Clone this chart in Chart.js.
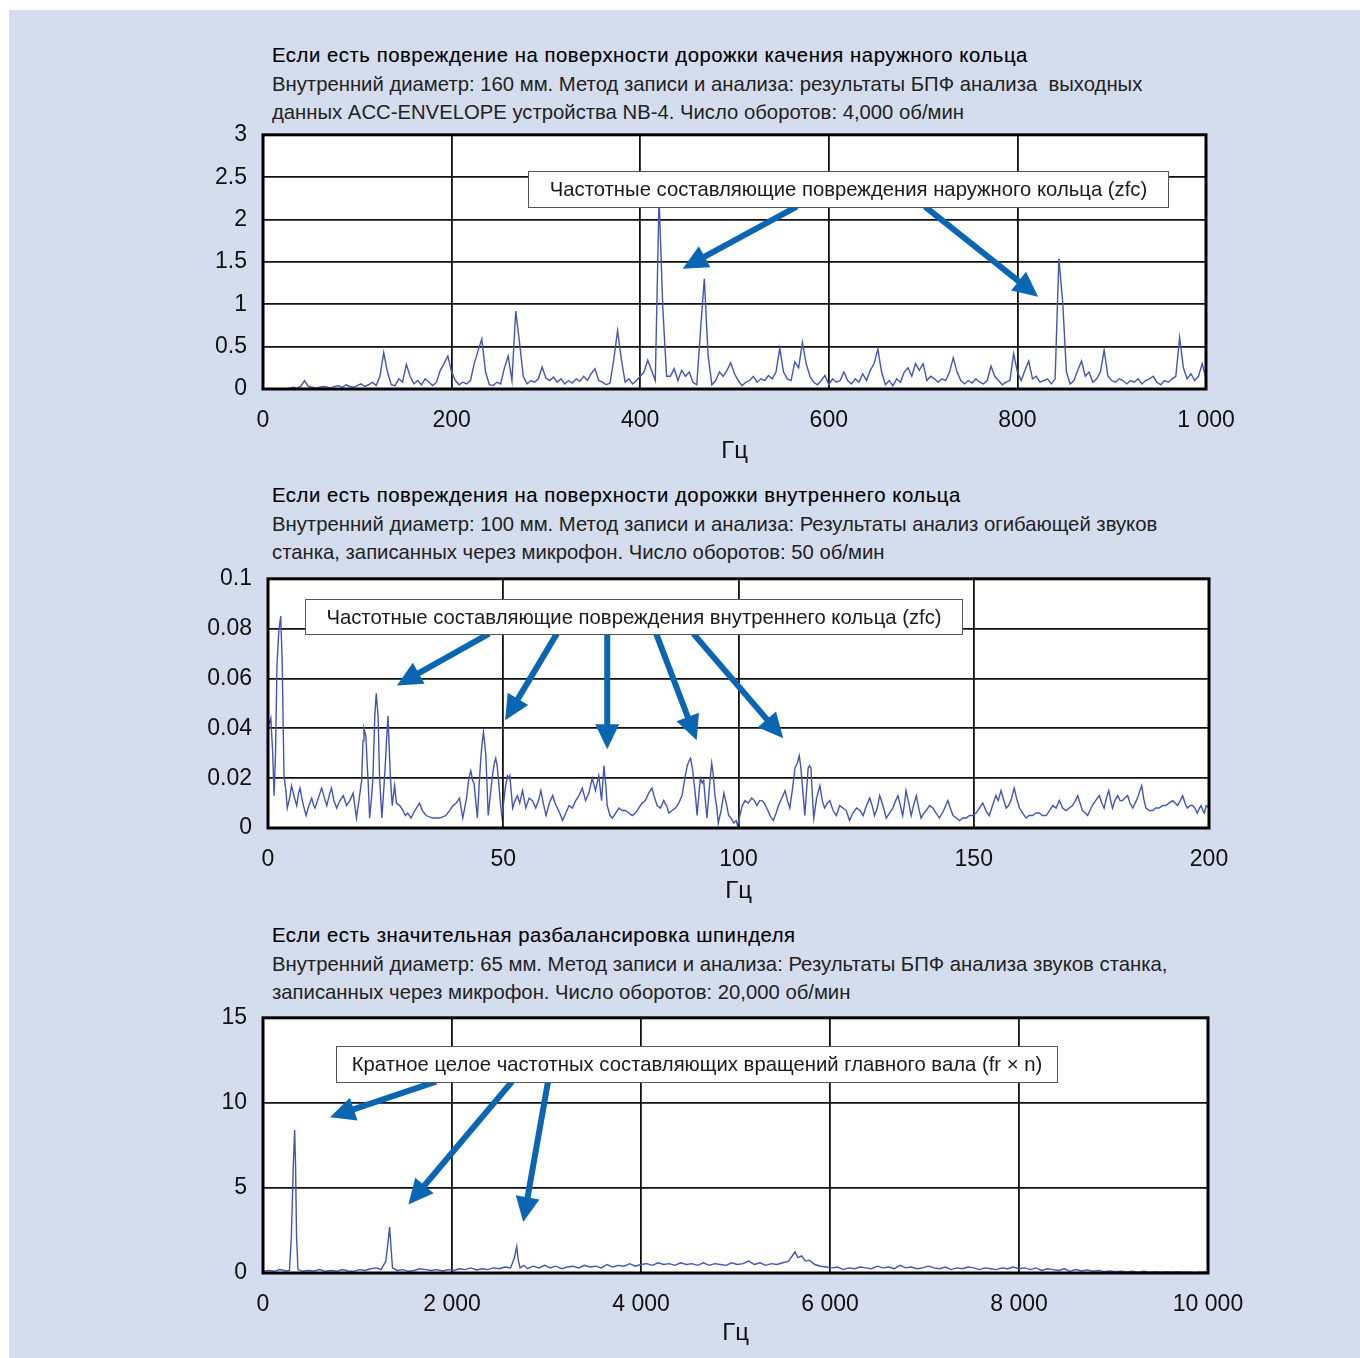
<!DOCTYPE html>
<html lang="ru">
<head>
<meta charset="UTF-8">
<title>Спектры повреждений подшипников</title>
<script src="https://cdn.jsdelivr.net/npm/chart.js"></script>
<style>
    html, body { margin: 0; padding: 0; background: #fff; overflow: hidden; }
    body { width: 1360px; height: 1358px; position: relative; font-family: "Liberation Sans", Arial, sans-serif; }
    #panel { position: absolute; left: 9px; top: 10px; width: 1351px; height: 1348px; background: #d4ddee; }
    .title { position: absolute; left: 272px; font-size: 20.3px; line-height: 28.5px; color: #222; }
    .title div { white-space: pre; }
    .title .head { color: #000; letter-spacing: 0.55px; -webkit-text-stroke: 0.12px #000; }
    canvas { position: absolute; }
</style>
</head>
<body>
<div id="panel"></div>

<div class="title" style="top:41px">
<div class="head">Если есть повреждение на поверхности дорожки качения наружного кольца</div>
<div>Внутренний диаметр: 160 мм. Метод записи и анализа: результаты БПФ анализа  выходных</div>
<div>данных ACC-ENVELOPE устройства NB-4. Число оборотов: 4,000 об/мин</div>
</div>
<canvas id="chart1" width="1133" height="364" style="left:133px; top:105px"></canvas>

<div class="title" style="top:481px">
<div class="head">Если есть повреждения на поверхности дорожки внутреннего кольца</div>
<div>Внутренний диаметр: 100 мм. Метод записи и анализа: Результаты анализ огибающей звуков</div>
<div>станка, записанных через микрофон. Число оборотов: 50 об/мин</div>
</div>
<canvas id="chart2" width="1131" height="359" style="left:138px; top:549px"></canvas>

<div class="title" style="top:921px">
<div class="head">Если есть значительная разбалансировка шпинделя</div>
<div>Внутренний диаметр: 65 мм. Метод записи и анализа: Результаты БПФ анализа звуков станка,</div>
<div>записанных через микрофон. Число оборотов: 20,000 об/мин</div>
</div>
<canvas id="chart3" width="1135" height="365" style="left:133px; top:988px"></canvas>

<script>
// ---- данные ----
// График 1: шаг 4 Гц, 0..1000 Гц
const step1 = 4;
const amp1 = [
    0, 0, 0, 0, 0, 0, 0, 0.01, 0.02, 0.01, 0.03, 0.1, 0.03, 0.02, 0.01, 0.02, 0.03, 0.02, 0.01, 0.03,
    0.04, 0.02, 0.05, 0.03, 0.02, 0.04, 0.06, 0.03, 0.05, 0.08, 0.04, 0.15, 0.43, 0.2, 0.05, 0.04, 0.12, 0.08, 0.29, 0.15,
    0.06, 0.1, 0.05, 0.12, 0.08, 0.04, 0.08, 0.22, 0.3, 0.39, 0.2, 0.1, 0.05, 0.08, 0.06, 0.1, 0.3, 0.45, 0.59, 0.2,
    0.05, 0.04, 0.08, 0.06, 0.25, 0.39, 0.1, 0.92, 0.55, 0.15, 0.06, 0.1, 0.08, 0.12, 0.26, 0.13, 0.1, 0.14, 0.08, 0.12,
    0.06, 0.1, 0.07, 0.12, 0.09, 0.15, 0.1, 0.18, 0.24, 0.1, 0.08, 0.05, 0.07, 0.35, 0.69, 0.35, 0.08, 0.12, 0.06, 0.1,
    0.15, 0.2, 0.34, 0.22, 0.1, 2.25, 0.95, 0.15, 0.15, 0.24, 0.1, 0.22, 0.15, 0.2, 0.08, 0.05, 0.7, 1.3, 0.4, 0.05,
    0.1, 0.2, 0.15, 0.22, 0.31, 0.18, 0.1, 0.04, 0.08, 0.1, 0.15, 0.08, 0.12, 0.1, 0.16, 0.12, 0.2, 0.48, 0.2, 0.12,
    0.1, 0.32, 0.25, 0.55, 0.3, 0.15, 0.08, 0.05, 0.1, 0.16, 0.05, 0.12, 0.08, 0.1, 0.2, 0.1, 0.06, 0.12, 0.08, 0.18,
    0.1, 0.22, 0.3, 0.47, 0.2, 0.05, 0.1, 0.04, 0.12, 0.08, 0.2, 0.25, 0.15, 0.3, 0.22, 0.3, 0.1, 0.15, 0.12, 0.08,
    0.12, 0.1, 0.2, 0.37, 0.2, 0.1, 0.06, 0.1, 0.07, 0.12, 0.08, 0.06, 0.1, 0.27, 0.15, 0.1, 0.05, 0.08, 0.1, 0.42,
    0.2, 0.1, 0.22, 0.33, 0.12, 0.15, 0.08, 0.1, 0.12, 0.06, 0.12, 1.54, 1.03, 0.2, 0.06, 0.1, 0.22, 0.33, 0.15, 0.2,
    0.08, 0.12, 0.2, 0.46, 0.15, 0.1, 0.08, 0.12, 0.1, 0.06, 0.1, 0.08, 0.12, 0.06, 0.1, 0.12, 0.15, 0.08, 0.05, 0.1,
    0.08, 0.12, 0.15, 0.61, 0.25, 0.12, 0.18, 0.1, 0.15, 0.3, 0.12
];
const xTicks1 = ['0', '200', '400', '600', '800', '1 000'];
const yTicks1 = ['0', '0.5', '1', '1.5', '2', '2.5', '3'];

// График 2: [Гц, амплитуда]
const spectrum2 = [
    [0, 0.044], [0.3, 0.042], [0.6, 0.044], [1.0, 0.03], [1.3, 0.013], [1.6, 0.03], [1.9, 0.065], [2.3, 0.079], [2.7, 0.085], [3.0, 0.068],
    [3.4, 0.021], [3.8, 0.015], [4.1, 0.008], [4.6, 0.012], [5.0, 0.017], [5.5, 0.013], [6.1, 0.009], [6.5, 0.014], [6.8, 0.016], [7.4, 0.01],
    [8.1, 0.005], [8.7, 0.009], [9.3, 0.012], [9.7, 0.009], [10.0, 0.008], [10.7, 0.012], [11.4, 0.016], [12.0, 0.012], [12.5, 0.009], [13.0, 0.013],
    [13.5, 0.016], [14.0, 0.011], [14.6, 0.008], [15.3, 0.011], [16.0, 0.013], [16.7, 0.009], [17.4, 0.011], [18.1, 0.014], [18.8, 0.004], [19.4, 0.012],
    [19.9, 0.019], [20.2, 0.035], [20.4, 0.04], [20.8, 0.037], [21.1, 0.025], [21.3, 0.018], [21.6, 0.004], [22.0, 0.012], [22.3, 0.02], [22.7, 0.045],
    [23.0, 0.054], [23.4, 0.045], [23.7, 0.021], [24.2, 0.004], [24.8, 0.021], [25.2, 0.035], [25.5, 0.045], [26.0, 0.021], [26.4, 0.009], [26.9, 0.017],
    [27.3, 0.01], [28.0, 0.009], [28.7, 0.007], [29.2, 0.005], [29.7, 0.006], [30.4, 0.004], [31.2, 0.007], [32.2, 0.01], [32.8, 0.007], [33.6, 0.005],
    [35.0, 0.004], [36.5, 0.004], [37.8, 0.005], [38.6, 0.007], [39.3, 0.009], [40.0, 0.01], [40.7, 0.012], [41.4, 0.004], [42.2, 0.012], [42.7, 0.02],
    [43.1, 0.023], [43.5, 0.019], [43.8, 0.018], [44.2, 0.01], [44.5, 0.004], [44.9, 0.018], [45.2, 0.027], [45.5, 0.034], [45.8, 0.0385], [46.1, 0.033],
    [46.3, 0.029], [46.6, 0.015], [46.8, 0.005], [47.3, 0.014], [47.7, 0.021], [48.1, 0.026], [48.4, 0.028], [48.7, 0.025], [48.9, 0.021], [49.4, 0.01],
    [49.7, 0.005], [50.0, 0.009], [50.5, 0.017], [50.9, 0.021], [51.2, 0.02], [51.4, 0.021], [52.0, 0.008], [52.5, 0.011], [53.0, 0.013], [53.5, 0.01],
    [54.1, 0.015], [54.8, 0.008], [55.5, 0.012], [56.2, 0.011], [56.9, 0.008], [57.5, 0.011], [58.0, 0.015], [58.5, 0.01], [59.1, 0.005], [59.8, 0.01],
    [60.5, 0.013], [61.0, 0.01], [61.5, 0.008], [62.0, 0.006], [62.6, 0.003], [63.3, 0.006], [64.0, 0.009], [64.7, 0.008], [65.4, 0.011], [66.1, 0.013],
    [66.8, 0.016], [67.5, 0.011], [68.2, 0.014], [68.9, 0.02], [69.6, 0.015], [70.3, 0.021], [70.9, 0.011], [71.4, 0.025], [71.8, 0.017], [72.1, 0.009],
    [72.7, 0.005], [73.2, 0.004], [73.9, 0.006], [74.6, 0.008], [75.3, 0.007], [76.0, 0.007], [76.7, 0.006], [77.4, 0.005], [78.1, 0.006], [78.8, 0.008],
    [79.5, 0.01], [80.2, 0.011], [80.9, 0.014], [81.6, 0.016], [82.2, 0.012], [82.7, 0.009], [83.4, 0.008], [84.1, 0.011], [84.7, 0.009], [85.2, 0.006],
    [85.9, 0.007], [86.6, 0.008], [87.3, 0.01], [88.0, 0.013], [88.6, 0.02], [89.1, 0.025], [89.5, 0.027], [89.8, 0.028], [90.2, 0.024], [90.5, 0.019],
    [90.9, 0.012], [91.2, 0.005], [91.6, 0.014], [91.9, 0.02], [92.3, 0.018], [92.6, 0.019], [93.0, 0.01], [93.3, 0.004], [93.8, 0.016], [94.3, 0.026],
    [94.6, 0.022], [95.0, 0.013], [95.4, 0.008], [95.7, 0.002], [96.3, 0.007], [96.9, 0.014], [97.4, 0.01], [97.9, 0.005], [98.4, 0.004], [99.0, 0.002],
    [99.5, 0.003], [99.8, 0.001], [100.3, 0.005], [100.8, 0.009], [101.4, 0.011], [102.1, 0.01], [102.8, 0.012], [103.4, 0.011], [103.9, 0.009], [104.5, 0.011],
    [105.0, 0.011], [105.5, 0.01], [106.0, 0.008], [106.7, 0.005], [107.4, 0.003], [108.0, 0.006], [108.5, 0.009], [109.2, 0.012], [109.9, 0.015], [110.4, 0.011],
    [110.9, 0.008], [111.5, 0.016], [112.0, 0.024], [112.5, 0.026], [112.9, 0.029], [113.2, 0.025], [113.4, 0.021], [113.8, 0.012], [114.1, 0.005], [114.5, 0.016],
    [114.8, 0.024], [115.1, 0.025], [115.4, 0.024], [115.7, 0.013], [116.0, 0.004], [116.6, 0.012], [117.3, 0.017], [117.8, 0.011], [118.3, 0.008], [118.9, 0.01],
    [119.4, 0.011], [120.1, 0.007], [120.8, 0.005], [121.5, 0.009], [122.2, 0.008], [122.9, 0.007], [123.6, 0.003], [124.3, 0.006], [125.1, 0.008], [125.8, 0.007],
    [126.5, 0.005], [127.2, 0.009], [127.9, 0.012], [128.4, 0.009], [128.9, 0.005], [129.5, 0.008], [130.0, 0.013], [130.7, 0.009], [131.4, 0.004], [132.1, 0.006],
    [132.8, 0.008], [133.4, 0.011], [133.9, 0.013], [134.4, 0.009], [134.9, 0.005], [135.3, 0.01], [135.6, 0.015], [136.2, 0.01], [136.7, 0.005], [137.2, 0.009],
    [137.8, 0.013], [138.3, 0.008], [138.8, 0.004], [139.4, 0.006], [139.9, 0.007], [140.6, 0.009], [141.3, 0.008], [142.0, 0.006], [142.7, 0.004], [143.6, 0.007],
    [144.5, 0.011], [145.0, 0.008], [145.6, 0.005], [146.3, 0.004], [147.0, 0.003], [147.7, 0.004], [148.4, 0.004], [149.1, 0.005], [149.8, 0.005], [150.5, 0.006],
    [151.2, 0.008], [151.9, 0.01], [152.6, 0.007], [153.3, 0.005], [154.0, 0.009], [154.7, 0.013], [155.2, 0.011], [155.8, 0.015], [156.4, 0.011], [156.9, 0.008],
    [157.4, 0.009], [157.9, 0.011], [158.6, 0.016], [159.1, 0.012], [159.7, 0.008], [160.4, 0.006], [161.1, 0.004], [161.8, 0.005], [162.5, 0.005], [163.2, 0.006],
    [163.9, 0.006], [164.6, 0.005], [165.4, 0.005], [166.1, 0.007], [166.8, 0.009], [167.5, 0.008], [168.2, 0.011], [168.9, 0.008], [169.6, 0.007], [170.3, 0.008],
    [171.0, 0.009], [171.6, 0.011], [172.1, 0.013], [172.6, 0.01], [173.1, 0.007], [173.7, 0.006], [174.2, 0.005], [174.7, 0.007], [175.2, 0.009], [175.9, 0.011],
    [176.7, 0.013], [177.2, 0.01], [177.7, 0.008], [178.2, 0.012], [178.7, 0.015], [179.1, 0.011], [179.5, 0.008], [180.0, 0.011], [180.6, 0.013], [181.1, 0.011],
    [181.6, 0.011], [182.1, 0.012], [182.7, 0.013], [183.2, 0.01], [183.8, 0.008], [184.3, 0.01], [184.8, 0.012], [185.3, 0.015], [185.7, 0.017], [186.1, 0.012],
    [186.6, 0.008], [187.3, 0.007], [188.0, 0.007], [188.7, 0.008], [189.4, 0.008], [190.1, 0.009], [190.8, 0.009], [191.5, 0.01], [192.3, 0.011], [192.8, 0.01],
    [193.3, 0.009], [193.9, 0.011], [194.4, 0.013], [194.9, 0.01], [195.4, 0.008], [196.0, 0.009], [196.5, 0.009], [197.0, 0.008], [197.5, 0.006], [198.0, 0.008],
    [198.3, 0.009], [198.7, 0.007], [199.0, 0.006], [199.4, 0.009], [200.0, 0.008]
];
const xTicks2 = ['0', '50', '100', '150', '200'];
const yTicks2 = ['0', '0.02', '0.04', '0.06', '0.08', '0.1'];

// График 3: [Гц, амплитуда]
const spectrum3 = [
    [0, 0.1], [60, 0.15], [120, 0.1], [180, 0.2], [240, 0.12], [280, 0.15], [300, 2.1], [320, 6.2], [335, 8.4], [345, 6.2],
    [355, 2.1], [370, 0.2], [420, 0.1], [480, 0.15], [540, 0.12], [600, 0.2], [660, 0.1], [720, 0.15], [780, 0.1], [840, 0.2],
    [900, 0.12], [960, 0.1], [1020, 0.2], [1080, 0.15], [1140, 0.25], [1200, 0.3], [1250, 0.2], [1300, 0.7], [1325, 1.9], [1340, 2.7],
    [1355, 1.5], [1370, 0.3], [1420, 0.15], [1480, 0.2], [1540, 0.1], [1600, 0.15], [1660, 0.25], [1720, 0.2], [1780, 0.15], [1840, 0.2],
    [1900, 0.12], [1960, 0.2], [2020, 0.15], [2080, 0.25], [2140, 0.2], [2200, 0.3], [2260, 0.18], [2320, 0.25], [2380, 0.2], [2440, 0.3],
    [2500, 0.25], [2560, 0.35], [2620, 0.3], [2660, 0.9], [2685, 1.55], [2700, 0.8], [2720, 0.3], [2760, 0.45], [2800, 0.25], [2860, 0.4],
    [2920, 0.3], [2980, 0.45], [3040, 0.3], [3100, 0.4], [3160, 0.25], [3220, 0.35], [3280, 0.4], [3340, 0.3], [3400, 0.45], [3460, 0.35],
    [3520, 0.4], [3580, 0.3], [3640, 0.5], [3700, 0.35], [3760, 0.45], [3820, 0.4], [3880, 0.55], [3940, 0.4], [4000, 0.5], [4060, 0.55],
    [4120, 0.45], [4180, 0.6], [4240, 0.5], [4300, 0.55], [4360, 0.45], [4420, 0.6], [4480, 0.5], [4540, 0.55], [4600, 0.45], [4660, 0.6],
    [4720, 0.45], [4780, 0.55], [4840, 0.5], [4900, 0.45], [4960, 0.6], [5020, 0.5], [5080, 0.55], [5140, 0.7], [5200, 0.5], [5260, 0.6],
    [5320, 0.45], [5380, 0.55], [5440, 0.5], [5500, 0.6], [5560, 0.7], [5600, 1.0], [5630, 1.25], [5660, 0.9], [5700, 1.0], [5740, 0.7],
    [5780, 0.75], [5840, 0.5], [5900, 0.4], [5960, 0.35], [6020, 0.3], [6080, 0.35], [6140, 0.2], [6200, 0.3], [6260, 0.25], [6320, 0.35],
    [6380, 0.3], [6440, 0.25], [6500, 0.4], [6560, 0.3], [6620, 0.35], [6680, 0.25], [6740, 0.45], [6800, 0.3], [6860, 0.35], [6920, 0.25],
    [6980, 0.3], [7040, 0.4], [7100, 0.3], [7160, 0.25], [7220, 0.35], [7280, 0.2], [7340, 0.3], [7400, 0.25], [7460, 0.35], [7520, 0.3],
    [7580, 0.2], [7640, 0.3], [7700, 0.25], [7760, 0.2], [7820, 0.3], [7880, 0.25], [7940, 0.35], [8000, 0.25], [8060, 0.3], [8120, 0.2],
    [8180, 0.3], [8240, 0.15], [8300, 0.25], [8360, 0.2], [8420, 0.15], [8480, 0.25], [8540, 0.1], [8600, 0.2], [8660, 0.12], [8720, 0.18],
    [8780, 0.1], [8840, 0.15], [8900, 0.08], [8960, 0.12], [9020, 0.08], [9080, 0.1], [9140, 0.06], [9200, 0.1], [9260, 0.05], [9320, 0.1],
    [9380, 0.05], [9440, 0.08], [9500, 0.04], [9560, 0.08], [9620, 0.04], [9680, 0.07], [9740, 0.04], [9800, 0.06], [9860, 0.03], [9920, 0.06],
    [10000, 0.05]
];
const xTicks3 = ['0', '2 000', '4 000', '6 000', '8 000', '10 000'];
const yTicks3 = ['0', '5', '10', '15'];

// Подписи и стрелки (в единицах осей)
const note1 = { text: 'Частотные составляющие повреждения наружного кольца (zfc)', x0: 281, x1: 960, y0: 2.576, y1: 2.153 };
const arrows1 = [[566, 2.153, 445, 1.42], [702, 2.153, 822, 1.09]];
const note2 = { text: 'Частотные составляющие повреждения внутреннего кольца (zfc)', x0: 7.9, x1: 147.5, y0: 0.092, y1: 0.078 };
const arrows2 = [[47, 0.078, 27.4, 0.0572], [61.4, 0.078, 50.4, 0.0432], [72.1, 0.078, 72.1, 0.0316],
                 [82.5, 0.078, 91.1, 0.0352], [90.4, 0.078, 109.5, 0.036]];
const note3 = { text: 'Кратное целое частотных составляющих вращений главного вала (fr × n)', x0: 772, x1: 8402, y0: 13.36, y1: 11.25 };
const arrows3 = [[1831, 11.25, 709, 9.16], [2635, 11.25, 1538, 4.02], [3016, 11.25, 2754, 3.0]];

// ---- оформление ----
const FONT = '"Liberation Sans", Arial, sans-serif';
const LINE_COLOR = '#4255b3';
const ARROW_COLOR = '#0a66b2';

function drawArrow(ctx, x0, y0, x1, y1) {
    const ang = Math.atan2(y1 - y0, x1 - x0);
    const headLen = 25, headHalf = 12;
    const bx = x1 - headLen * Math.cos(ang);
    const by = y1 - headLen * Math.sin(ang);
    ctx.strokeStyle = ARROW_COLOR;
    ctx.fillStyle = ARROW_COLOR;
    ctx.lineWidth = 6;
    ctx.beginPath();
    ctx.moveTo(x0, y0);
    ctx.lineTo(bx + 2 * Math.cos(ang), by + 2 * Math.sin(ang));
    ctx.stroke();
    ctx.beginPath();
    ctx.moveTo(x1, y1);
    ctx.lineTo(bx + headHalf * Math.sin(ang), by - headHalf * Math.cos(ang));
    ctx.lineTo(bx - headHalf * Math.sin(ang), by + headHalf * Math.cos(ang));
    ctx.closePath();
    ctx.fill();
}

const plotDecor = {
    id: 'plotDecor',
    beforeDraw(chart) {
        const { ctx, chartArea: a } = chart;
        ctx.save();
        ctx.fillStyle = '#fff';
        ctx.fillRect(a.left, a.top, a.width, a.height);
        ctx.restore();
    },
    afterDatasetsDraw(chart, args, opts) {
        const { ctx, chartArea: a, scales: { x, y } } = chart;
        ctx.save();
        // рамка
        ctx.strokeStyle = '#000';
        ctx.lineWidth = 3;
        ctx.strokeRect(a.left, a.top, a.width, a.height);
        // стрелки
        opts.arrows.forEach(([fx, fy, tx, ty]) => {
            drawArrow(ctx, x.getPixelForValue(fx), y.getPixelForValue(fy), x.getPixelForValue(tx), y.getPixelForValue(ty));
        });
        // подпись в рамке
        const n = opts.note;
        const l = Math.round(x.getPixelForValue(n.x0)) + 0.5, r = Math.round(x.getPixelForValue(n.x1)) + 0.5;
        const t = Math.round(y.getPixelForValue(n.y0)) + 0.5, b = Math.round(y.getPixelForValue(n.y1)) + 0.5;
        ctx.fillStyle = '#fff';
        ctx.fillRect(l, t, r - l, b - t);
        ctx.strokeStyle = '#555';
        ctx.lineWidth = 1;
        ctx.strokeRect(l, t, r - l, b - t);
        ctx.fillStyle = '#1a1a1a';
        ctx.font = '20.3px ' + FONT;
        ctx.textAlign = 'center';
        ctx.textBaseline = 'middle';
        ctx.fillText(n.text, (l + r) / 2, (t + b) / 2 + 1);
        ctx.restore();
    }
};

function makeChart(id, points, xMax, xStep, xLabels, yMax, yStep, yLabels, note, arrows, titlePad) {
    return new Chart(document.getElementById(id), {
        type: 'line',
        data: {
            datasets: [{
                data: points,
                borderColor: LINE_COLOR,
                borderWidth: 1.4,
                pointRadius: 0,
                tension: 0,
                fill: false
            }]
        },
        options: {
            responsive: false,
            animation: false,
            events: [],
            layout: { padding: { left: 0, top: 12, right: 60, bottom: 0 } },
            plugins: {
                legend: { display: false },
                tooltip: { enabled: false },
                plotDecor: { note: note, arrows: arrows }
            },
            scales: {
                x: {
                    type: 'linear',
                    min: 0, max: xMax,
                    border: { display: false },
                    grid: { color: '#111', lineWidth: 1.8, drawTicks: false },
                    ticks: {
                        stepSize: xStep,
                        padding: 17.5,
                        maxRotation: 0,
                        color: '#111',
                        font: { family: FONT, size: 23 },
                        callback: (v, i) => xLabels[i]
                    },
                    title: {
                        display: true,
                        text: 'Гц',
                        color: '#111',
                        font: { family: FONT, size: 24 },
                        padding: { top: 0, bottom: titlePad }
                    },
                    afterFit: s => { s.height = 80; }
                },
                y: {
                    min: 0, max: yMax,
                    border: { display: false },
                    grid: { color: '#111', lineWidth: 1.8, drawTicks: false },
                    ticks: {
                        stepSize: yStep,
                        padding: 16,
                        color: '#111',
                        font: { family: FONT, size: 23 },
                        callback: (v, i) => yLabels[i]
                    },
                    afterFit: s => { s.width = 130; }
                }
            }
        },
        plugins: [plotDecor]
    });
}

makeChart('chart1', amp1.map((v, i) => ({ x: i * step1, y: v })), 1000, 200, xTicks1, 3, 0.5, yTicks1, note1, arrows1, 3);
makeChart('chart2', spectrum2.map(p => ({ x: p[0], y: p[1] })), 200, 50, xTicks2, 0.1, 0.02, yTicks2, note2, arrows2, 2);
makeChart('chart3', spectrum3.map(p => ({ x: p[0], y: p[1] })), 10000, 2000, xTicks3, 15, 5, yTicks3, note3, arrows3, 5);
</script>
</body>
</html>
